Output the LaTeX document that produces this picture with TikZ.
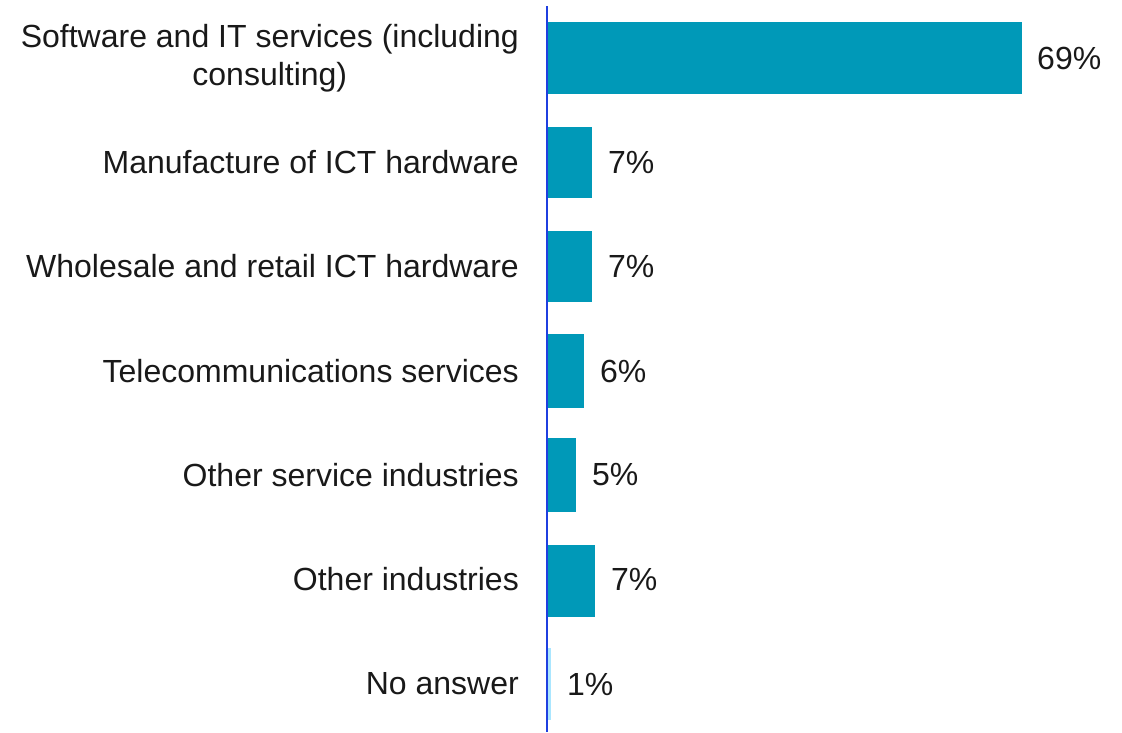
\documentclass[tikz,border=0pt]{standalone}
\usepackage{fontspec}
\setmainfont{Liberation Sans}
\definecolor{barc}{HTML}{0099B8}
\definecolor{axisc}{HTML}{1F3FE0}
\definecolor{lightc}{HTML}{AAE6FF}
\begin{document}
\begin{tikzpicture}[x=1pt,y=-1pt,
  lab/.style={anchor=east,align=center,inner sep=0pt,font=\fontsize{32}{38}\selectfont,text=black!90},
  val/.style={anchor=west,inner sep=0pt,font=\fontsize{32}{38}\selectfont,text=black!90},
  bar/.style={fill=barc,draw=none}]
\useasboundingbox (0,0) rectangle (1122,732);
\fill[bar] (547,22) rectangle (1022,94) coordinate (b1);
\fill[bar] (547,127) rectangle (592,198) coordinate (b2);
\fill[bar] (547,231) rectangle (592,302) coordinate (b3);
\fill[bar] (547,334) rectangle (584,408) coordinate (b4);
\fill[bar] (547,438) rectangle (576,512) coordinate (b5);
\fill[bar] (547,545) rectangle (595,617) coordinate (b6);
\fill[lightc] (547,648) rectangle (551,720) coordinate (b7);
\draw[axisc,line width=2pt] (546.5,6) coordinate (ax1) -- (546.5,732) coordinate (ax2);
\node[lab] (l1) at (519,58) {Software and IT services (including\\consulting)};
\node[lab] (l2) at (519,162) {Manufacture of ICT hardware};
\node[lab] (l3) at (519,266) {Wholesale and retail ICT hardware};
\node[lab] (l4) at (519,371) {Telecommunications services};
\node[lab] (l5) at (519,475) {Other service industries};
\node[lab] (l6) at (519,579) {Other industries};
\node[lab] (l7) at (519,684) {No answer};
\node[val] (v1) at (1037,58) {69\%};
\node[val] (v2) at (608,162) {7\%};
\node[val] (v3) at (608,266) {7\%};
\node[val] (v4) at (600,371) {6\%};
\node[val] (v5) at (592,475) {5\%};
\node[val] (v6) at (611,579) {7\%};
\node[val] (v7) at (567,684) {1\%};
\end{tikzpicture}
\end{document}
